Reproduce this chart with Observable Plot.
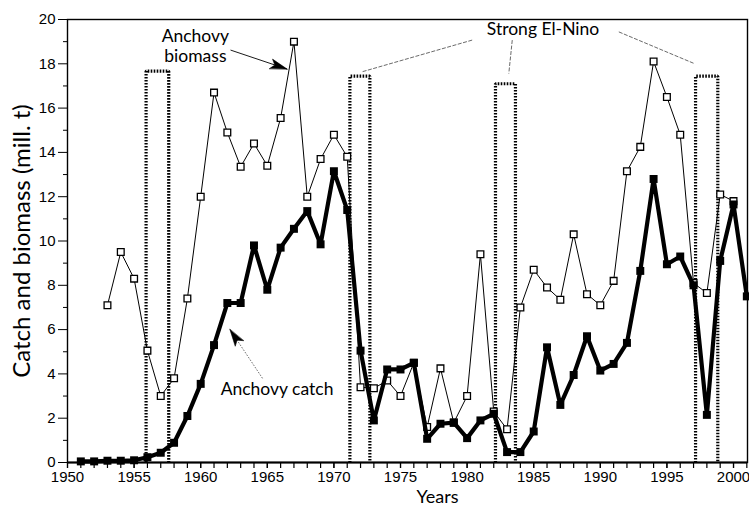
<!DOCTYPE html>
<html><head><meta charset="utf-8">
<script src="https://cdn.jsdelivr.net/npm/d3@7"></script>
<script src="https://cdn.jsdelivr.net/npm/@observablehq/plot@0.6"></script>
<style>html,body{margin:0;padding:0;background:#fff}#chart svg{display:block}</style>
</head><body><div id="chart"></div>
<script>
// ---- data ----
const catchYears = [1951,1952,1953,1954,1955,1956,1957,1958,1959,1960,1961,1962,1963,1964,1965,1966,1967,1968,1969,1970,1971,1972,1973,1974,1975,1976,1977,1978,1979,1980,1981,1982,1983,1984,1985,1986,1987,1988,1989,1990,1991,1992,1993,1994,1995,1996,1997,1998,1999,2000,2001];
const catchValues = [0.05,0.05,0.08,0.08,0.1,0.24,0.44,0.89,2.1,3.55,5.3,7.2,7.2,9.8,7.8,9.7,10.55,11.35,9.85,13.15,11.4,5.05,1.9,4.2,4.2,4.5,1.07,1.75,1.8,1.1,1.9,2.2,0.47,0.47,1.4,5.2,2.6,3.95,5.7,4.15,4.45,5.4,8.65,12.8,8.95,9.3,8.0,2.15,9.1,11.65,7.5];
const biomassYears = [1953,1954,1955,1956,1957,1958,1959,1960,1961,1962,1963,1964,1965,1966,1967,1968,1969,1970,1971,1972,1973,1974,1975,1976,1977,1978,1979,1980,1981,1982,1983,1984,1985,1986,1987,1988,1989,1990,1991,1992,1993,1994,1995,1996,1997,1998,1999,2000];
const biomassValues = [7.1,9.5,8.3,5.05,3.0,3.8,7.4,12.0,16.7,14.9,13.35,14.4,13.4,15.55,19.0,12.0,13.7,14.8,13.8,3.4,3.35,3.7,3.0,4.5,1.6,4.25,1.8,3.0,9.4,2.3,1.5,7.0,8.7,7.9,7.35,10.3,7.6,7.1,8.2,13.15,14.25,18.1,16.5,14.8,8.1,7.65,12.1,11.8];
// strong El Nino periods (dotted boxes)
const elNinoStart = [1955.9, 1971.2, 1982.13, 1997.15];
const elNinoEnd   = [1957.6, 1972.7, 1983.63, 1998.82];
const elNinoTop   = [17.67, 17.44, 17.1, 17.44];
// ticks
const xTickLabels = [1950,1955,1960,1965,1970,1975,1980,1985,1990,1995,2000];
const yTickLabels = [0,2,4,6,8,10,12,14,16,18,20];
// annotations
const labelText = ["Anchovy\nbiomass", "Anchovy catch", "Strong El-Nino"];
const labelX = [1959.6, 1965.73, 1985.7];
const labelY = [18.84, 3.34, 19.57];
const arrowX1 = [1962.24, 1964.64];
const arrowY1 = [18.62, 3.80];
const arrowX2 = [1966.49, 1962.19];
const arrowY2 = [17.76, 6.01];
const arrowAngle = [108, -34];
const leaderX1 = [1980.38, 1983.39, 1991.39];
const leaderY1 = [19.07, 19.07, 19.44];
const leaderX2 = [1972.12, 1983.13, 1997.02];
const leaderY2 = [17.64, 17.56, 18.02];

// ---- tables ----
const catchData = catchYears.map((yr, i) => ({year: yr, value: catchValues[i]}));
const biomassData = biomassYears.map((yr, i) => ({year: yr, value: biomassValues[i]}));
const boxData = elNinoStart.flatMap((s, i) => [
  {id: i, x: s, y: 0}, {id: i, x: s, y: elNinoTop[i]},
  {id: i, x: elNinoEnd[i], y: elNinoTop[i]}, {id: i, x: elNinoEnd[i], y: 0}
]);
const labels = labelText.map((t, i) => ({t, x: labelX[i], y: labelY[i]}));
const arrows = arrowX1.map((x, i) => ({x1: x, y1: arrowY1[i], x2: arrowX2[i], y2: arrowY2[i], a: arrowAngle[i]}));
const leaders = leaderX1.map((x, i) => ({x1: x, y1: leaderY1[i], x2: leaderX2[i], y2: leaderY2[i]}));
const allYears = d3.range(1950, 2002);
const minorY = d3.range(1, 20, 2);

const headShape = {
  draw(context, l, r) {
    context.moveTo(0, -l);
    context.lineTo(-5, 0);
    context.lineTo(0, -4);
    context.lineTo(5, 0);
    context.closePath();
  }
};

const annFont = "Lato, 'Open Sans', sans-serif";

const chart = Plot.plot({
  width: 749, height: 511,
  marginLeft: 67, marginRight: 2, marginTop: 19, marginBottom: 49,
  x: {domain: [1950, 2001.05], label: null},
  y: {domain: [0, 20], label: null},
  style: {fontFamily: "'Liberation Sans', Arial, sans-serif", fontSize: "15px", color: "black", background: "white"},
  marks: [
    Plot.axisX({ticks: allYears, tickSize: 6, tickFormat: () => "", label: null, strokeWidth: 1.2}),
    Plot.axisX({ticks: xTickLabels, tickSize: 6, tickPadding: 3, tickFormat: d => String(d), label: null, strokeWidth: 1.2}),
    Plot.axisY({ticks: minorY, tickSize: 4, tickFormat: () => "", label: null}),
    Plot.axisY({ticks: yTickLabels, tickSize: 9, tickPadding: 3, tickFormat: d => String(d), label: null}),
    Plot.frame({stroke: "black", strokeWidth: 1.4}),
    Plot.ruleY([0], {stroke: "black", strokeWidth: 2}),
    // El Nino dotted boxes
    Plot.line(boxData, {x: "x", y: "y", z: "id", stroke: "black", strokeWidth: 3.2, strokeDasharray: "1.6,1.4", strokeLinecap: "butt", strokeLinejoin: "miter", curve: "linear"}),
    // leaders
    Plot.link(leaders, {x1: "x1", y1: "y1", x2: "x2", y2: "y2", stroke: "#444", strokeWidth: 0.8, strokeDasharray: "4,1.5", strokeLinecap: "butt"}),
    // biomass
    Plot.line(biomassData, {x: "year", y: "value", stroke: "black", strokeWidth: 1}),
    Plot.dot(biomassData, {x: "year", y: "value", symbol: "square", r: 3.8, fill: "white", stroke: "black", strokeWidth: 1.3}),
    // catch
    Plot.line(catchData, {x: "year", y: "value", stroke: "black", strokeWidth: 4.2, strokeLinejoin: "miter"}),
    Plot.dot(catchData, {x: "year", y: "value", symbol: "square", r: 4.5, fill: "black", stroke: "none"}),
    // annotation arrows
    Plot.link(arrows.slice(0, 1), {x1: "x1", y1: "y1", x2: "x2", y2: "y2", stroke: "black", strokeWidth: 0.9}),
    Plot.link(arrows.slice(1), {x1: "x1", y1: "y1", x2: "x2", y2: "y2", stroke: "#555", strokeWidth: 0.9, strokeDasharray: "1.5,1.5", strokeLinecap: "butt"}),
    Plot.vector(arrows, {x: "x2", y: "y2", rotate: "a", length: 17, anchor: "end", shape: headShape, fill: "black", stroke: "black", strokeWidth: 0.5}),
    // labels
    Plot.text(labels, {x: "x", y: "y", text: "t", fontFamily: annFont, fontSize: 17.5, lineHeight: 1.15, fill: "black"}),
    // axis titles
    Plot.text(["Catch and biomass (mill. t)"], {frameAnchor: "left", textAnchor: "middle", dx: -45, rotate: -90, fontFamily: annFont, fontSize: 24, fill: "black"}),
    Plot.text(["Years"], {frameAnchor: "bottom", dx: 30, dy: 40, fontFamily: annFont, fontSize: 18, fill: "black"})
  ]
});
document.getElementById("chart").appendChild(chart);
</script>
</body></html>
